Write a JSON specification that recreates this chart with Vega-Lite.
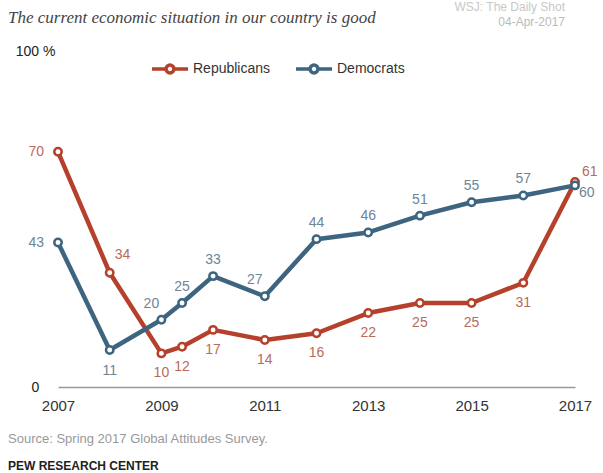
{
  "$schema": "https://vega.github.io/schema/vega-lite/v6.json",
  "width": 517,
  "height": 336,
  "autosize": {"type": "none"},
  "padding": {"left": 58, "top": 51, "right": 28, "bottom": 86},
  "background": "white",
  "config": {"view": {"stroke": null}, "font": "Liberation Sans"},
  "datasets": {
    "notes": [
      {"note": "The current economic situation in our country is good", "kind": "subtitle"},
      {"note": "WSJ: The Daily Shot", "kind": "wsj"},
      {"note": "04-Apr-2017", "kind": "date"},
      {"note": "Source: Spring 2017 Global Attitudes Survey.", "kind": "source"},
      {"note": "PEW RESEARCH CENTER", "kind": "pew"}
    ],
    "survey": [
      {"party": "Republicans", "year": 2007, "value": 70},
      {"party": "Republicans", "year": 2008, "value": 34},
      {"party": "Republicans", "year": 2009, "value": 10},
      {"party": "Republicans", "year": 2009.4, "value": 12},
      {"party": "Republicans", "year": 2010, "value": 17},
      {"party": "Republicans", "year": 2011, "value": 14},
      {"party": "Republicans", "year": 2012, "value": 16},
      {"party": "Republicans", "year": 2013, "value": 22},
      {"party": "Republicans", "year": 2014, "value": 25},
      {"party": "Republicans", "year": 2015, "value": 25},
      {"party": "Republicans", "year": 2016, "value": 31},
      {"party": "Republicans", "year": 2017, "value": 61},
      {"party": "Democrats", "year": 2007, "value": 43},
      {"party": "Democrats", "year": 2008, "value": 11},
      {"party": "Democrats", "year": 2009, "value": 20},
      {"party": "Democrats", "year": 2009.4, "value": 25},
      {"party": "Democrats", "year": 2010, "value": 33},
      {"party": "Democrats", "year": 2011, "value": 27},
      {"party": "Democrats", "year": 2012, "value": 44},
      {"party": "Democrats", "year": 2013, "value": 46},
      {"party": "Democrats", "year": 2014, "value": 51},
      {"party": "Democrats", "year": 2015, "value": 55},
      {"party": "Democrats", "year": 2016, "value": 57},
      {"party": "Democrats", "year": 2017, "value": 60}
    ]
  },
  "layer": [
    {
      "data": {"name": "survey"},
      "encoding": {
        "x": {"field": "year", "type": "quantitative", "scale": {"domain": [2007, 2017], "nice": false, "zero": false},
          "axis": {"values": [2007, 2009, 2011, 2013, 2015, 2017], "format": "d", "title": null, "grid": false, "ticks": false, "tickSize": 0, "domainColor": "#999", "domainWidth": 1.5, "labelFontSize": 15, "labelColor": "#333", "labelPadding": 11, "labelFlush": false}},
        "y": {"field": "value", "type": "quantitative", "scale": {"domain": [0, 100], "nice": false},
          "axis": {"values": [0, 100], "labelExpr": "datum.value == 100 ? '100 %' : datum.label", "title": null, "grid": false, "ticks": false, "tickSize": 0, "domain": false, "labelAlign": "center", "labelBaseline": "middle", "labelPadding": 23, "labelFontSize": 14, "labelColor": "#222"}}
      },
      "layer": [
        {
          "mark": {"type": "line", "strokeWidth": 4.5, "strokeCap": "round", "strokeJoin": "round"},
          "encoding": {"color": {"field": "party", "type": "nominal", "scale": {"domain": ["Republicans", "Democrats"], "range": ["#b5412c", "#3d6580"]},
            "legend": {"title": null, "orient": "none", "legendX": 92, "legendY": -2, "direction": "horizontal", "symbolType": "M-1,0L-0.22,0M0.22,0L1,0M0.22,0A0.22,0.22,0,1,1,-0.22,0A0.22,0.22,0,1,1,0.22,0Z", "symbolSize": 1296, "symbolStrokeWidth": 3.5, "symbolFillColor": "white", "labelFontSize": 14, "labelColor": "#333", "labelOffset": 3, "columnPadding": 18, "padding": 0}}}
        },
        {
          "mark": {"type": "point", "filled": false, "fill": "white", "size": 55, "strokeWidth": 2.5, "opacity": 1},
          "encoding": {"color": {"field": "party", "type": "nominal", "scale": {"domain": ["Republicans", "Democrats"], "range": ["#b5412c", "#3d6580"]},
            "legend": {"title": null, "orient": "none", "legendX": 92, "legendY": -2, "direction": "horizontal", "symbolType": "M-1,0L-0.22,0M0.22,0L1,0M0.22,0A0.22,0.22,0,1,1,-0.22,0A0.22,0.22,0,1,1,0.22,0Z", "symbolSize": 1296, "symbolStrokeWidth": 3.5, "symbolFillColor": "white", "labelFontSize": 14, "labelColor": "#333", "labelOffset": 3, "columnPadding": 18, "padding": 0}}}
        },
        {
          "transform": [{"filter": "datum.party == 'Republicans' && datum.year != 2007 && datum.year != 2008 && datum.year != 2017"}],
          "mark": {"type": "text", "align": "center", "baseline": "middle", "dy": 20, "fontSize": 14, "color": "#b86b5c"},
          "encoding": {"text": {"field": "value", "type": "quantitative"}}
        },
        {
          "transform": [{"filter": "datum.party == 'Republicans' && datum.year == 2007"}],
          "mark": {"type": "text", "align": "right", "baseline": "middle", "dx": -14, "fontSize": 14, "color": "#b86b5c"},
          "encoding": {"text": {"field": "value", "type": "quantitative"}}
        },
        {
          "transform": [{"filter": "datum.party == 'Republicans' && datum.year == 2008"}],
          "mark": {"type": "text", "align": "left", "baseline": "middle", "dx": 5, "dy": -18, "fontSize": 14, "color": "#b86b5c"},
          "encoding": {"text": {"field": "value", "type": "quantitative"}}
        },
        {
          "transform": [{"filter": "datum.party == 'Republicans' && datum.year == 2017"}],
          "mark": {"type": "text", "align": "left", "baseline": "middle", "dx": 7, "dy": -10, "fontSize": 14, "color": "#b86b5c"},
          "encoding": {"text": {"field": "value", "type": "quantitative"}}
        },
        {
          "transform": [{"filter": "datum.party == 'Democrats' && datum.year != 2007 && datum.year != 2008 && datum.year != 2009 && datum.year != 2011 && datum.year != 2017"}],
          "mark": {"type": "text", "align": "center", "baseline": "middle", "dy": -16, "fontSize": 14, "color": "#6e8596"},
          "encoding": {"text": {"field": "value", "type": "quantitative"}}
        },
        {
          "transform": [{"filter": "datum.party == 'Democrats' && (datum.year == 2009 || datum.year == 2011)"}],
          "mark": {"type": "text", "align": "center", "baseline": "middle", "dx": -10, "dy": -16, "fontSize": 14, "color": "#6e8596"},
          "encoding": {"text": {"field": "value", "type": "quantitative"}}
        },
        {
          "transform": [{"filter": "datum.party == 'Democrats' && datum.year == 2007"}],
          "mark": {"type": "text", "align": "right", "baseline": "middle", "dx": -14, "fontSize": 14, "color": "#6e8596"},
          "encoding": {"text": {"field": "value", "type": "quantitative"}}
        },
        {
          "transform": [{"filter": "datum.party == 'Democrats' && datum.year == 2008"}],
          "mark": {"type": "text", "align": "center", "baseline": "middle", "dy": 21, "fontSize": 14, "color": "#6e8596"},
          "encoding": {"text": {"field": "value", "type": "quantitative"}}
        },
        {
          "transform": [{"filter": "datum.party == 'Democrats' && datum.year == 2017"}],
          "mark": {"type": "text", "align": "left", "baseline": "middle", "dx": 4, "dy": 8, "fontSize": 14, "color": "#6e8596"},
          "encoding": {"text": {"field": "value", "type": "quantitative"}}
        }
      ]
    },
    {
      "data": {"name": "notes"},
      "transform": [{"filter": "datum.kind == 'subtitle'"}],
      "mark": {"type": "text", "align": "left", "baseline": "middle", "dx": -50, "font": "Liberation Serif", "fontStyle": "italic", "fontSize": 17, "color": "#444444"},
      "encoding": {"x": {"datum": 2007, "type": "quantitative"}, "y": {"datum": 109.8, "type": "quantitative"}, "text": {"field": "note", "type": "nominal"}}
    },
    {
      "data": {"name": "notes"},
      "transform": [{"filter": "datum.kind == 'wsj'"}],
      "mark": {"type": "text", "align": "right", "baseline": "middle", "dx": -10, "fontSize": 12, "color": "#c8c8c8"},
      "encoding": {"x": {"datum": 2017, "type": "quantitative"}, "y": {"datum": 113.1, "type": "quantitative"}, "text": {"field": "note", "type": "nominal"}}
    },
    {
      "data": {"name": "notes"},
      "transform": [{"filter": "datum.kind == 'date'"}],
      "mark": {"type": "text", "align": "right", "baseline": "middle", "dx": -10, "fontSize": 12, "color": "#bbbbbb"},
      "encoding": {"x": {"datum": 2017, "type": "quantitative"}, "y": {"datum": 108.6, "type": "quantitative"}, "text": {"field": "note", "type": "nominal"}}
    },
    {
      "data": {"name": "notes"},
      "transform": [{"filter": "datum.kind == 'source'"}],
      "mark": {"type": "text", "align": "left", "baseline": "middle", "dx": -50, "fontSize": 13, "color": "#999999"},
      "encoding": {"x": {"datum": 2007, "type": "quantitative"}, "y": {"datum": -15.5, "type": "quantitative"}, "text": {"field": "note", "type": "nominal"}}
    },
    {
      "data": {"name": "notes"},
      "transform": [{"filter": "datum.kind == 'pew'"}],
      "mark": {"type": "text", "align": "left", "baseline": "middle", "dx": -50, "fontSize": 12, "fontWeight": "bold", "color": "#222222"},
      "encoding": {"x": {"datum": 2007, "type": "quantitative"}, "y": {"datum": -23.5, "type": "quantitative"}, "text": {"field": "note", "type": "nominal"}}
    }
  ]
}
